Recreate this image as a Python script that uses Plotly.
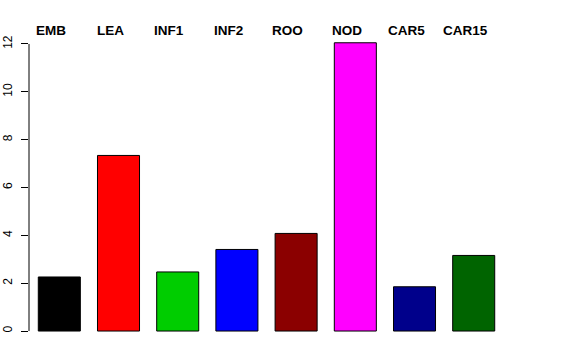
import plotly.graph_objects as go

categories = ["EMB", "LEA", "INF1", "INF2", "ROO", "NOD", "CAR5", "CAR15"]
values = [2.26, 7.34, 2.47, 3.41, 4.08, 12.05, 1.85, 3.16]
colors = ["#000000", "#FF0000", "#00CD00", "#0000FF", "#8B0000", "#FF00FF", "#00008B", "#006400"]
y_ticks = [0, 2, 4, 6, 8, 10, 12]

font_family = "Liberation Sans, Arial, Helvetica, sans-serif"

fig = go.Figure(
    go.Bar(
        x=categories,
        y=values,
        marker=dict(color=colors, line=dict(color="black", width=1)),
        width=0.71,
        hoverinfo="skip",
    )
)

annotations = [
    dict(
        x=c, y=1, xref="x", yref="paper",
        text="<b>%s</b>" % c, showarrow=False,
        yanchor="middle", yshift=2, xshift=-8.4,
        font=dict(family=font_family, size=13.5, color="black"),
    )
    for c in categories
]

fig.update_layout(
    width=576,
    height=360,
    margin=dict(l=29, r=20, t=32, b=17, autoexpand=False),
    paper_bgcolor="white",
    plot_bgcolor="white",
    showlegend=False,
    font=dict(family=font_family, size=12, color="black"),
    xaxis=dict(
        range=[-0.512, 8.39],
        showticklabels=False,
        showgrid=False,
        zeroline=False,
        showline=False,
        ticks="",
        automargin=False,
    ),
    yaxis=dict(
        range=[-0.5, 12.5],
        tickvals=y_ticks,
        ticktext=[str(v) for v in y_ticks],
        tickangle=-90,
        ticks="outside",
        ticklen=7,
        tickwidth=1,
        tickcolor="black",
        ticklabelstandoff=4,
        showgrid=False,
        zeroline=False,
        showline=False,
        automargin=False,
        tickfont=dict(family=font_family, size=12, color="black"),
    ),
    annotations=annotations,
    shapes=[
        dict(type="line", xref="paper", yref="y", x0=0, x1=0, y0=0, y1=12,
             line=dict(color="black", width=1)),
    ],
)

fig.write_html("out.html", config={"displayModeBar": False},
               post_script="document.body.style.margin='0';")
